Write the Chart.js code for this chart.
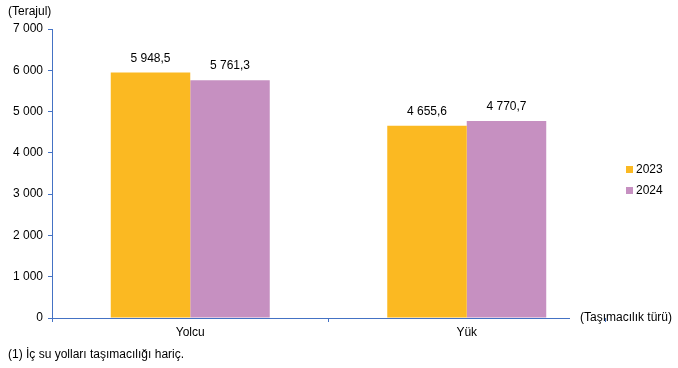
<!DOCTYPE html>
<html>
<head>
<meta charset="utf-8">
<script src="https://cdn.jsdelivr.net/npm/chart.js@4"></script>
<style>
  html, body { margin: 0; padding: 0; background: #fff; }
  #wrap { width: 678px; height: 368px; position: relative; }
</style>
</head>
<body>
<div id="wrap"><canvas id="grafik" width="678" height="368"></canvas></div>
<script>
const kategoriler = ['Yolcu', 'Yük'];
const yillar = ['2023', '2024'];
const deger2023 = [5948.5, 4655.6];
const deger2024 = [5761.3, 4770.7];
const yEksenMax = 7000;
const yEksenAdim = 1000;

const renkler = ['#FBB922', '#C690C1'];
const eksenRengi = '#4472C4';
const yazi = '"Liberation Sans", Arial, sans-serif';

function sayiBicim(v, ondalik) {
  const s = v.toFixed(ondalik).split('.');
  const tam = s[0].replace(/\B(?=(\d{3})+(?!\d))/g, ' ');
  return s[1] ? tam + ',' + s[1] : tam;
}

// etiketler, lejant ve eksen notları
const ekler = {
  id: 'ekler',
  afterDatasetsDraw(chart) {
    const ctx = chart.ctx;
    const alan = chart.chartArea;
    ctx.save();
    ctx.font = '12px ' + yazi;
    ctx.fillStyle = '#000';

    // bar değerleri
    ctx.textAlign = 'center';
    ctx.textBaseline = 'bottom';
    chart.data.datasets.forEach((ds, i) => {
      chart.getDatasetMeta(i).data.forEach((bar, j) => {
        ctx.fillText(sayiBicim(ds.data[j], 1), bar.x, bar.y - 8);
      });
    });

    // x ekseni çizgisi (sağ ucu kısa)
    const x0 = chart.scales.y.right;
    const yAlt = chart.scales.y.getPixelForValue(0);
    ctx.strokeStyle = eksenRengi;
    ctx.lineWidth = 1;
    ctx.beginPath();
    ctx.moveTo(x0 - 4, yAlt + 0.5);
    ctx.lineTo(alan.right - 35, yAlt + 0.5);
    ctx.stroke();

    // lejant
    ctx.textAlign = 'left';
    ctx.textBaseline = 'middle';
    chart.data.datasets.forEach((ds, i) => {
      const ly = 170 + i * 21;
      ctx.fillStyle = ds.backgroundColor;
      ctx.fillRect(626, ly - 4, 7, 7);
      ctx.fillStyle = '#000';
      ctx.fillText(ds.label, 636, ly);
    });

    // birim notları
    ctx.textBaseline = 'middle';
    ctx.fillText('(Terajul)', 8, 12);
    ctx.fillText('(Taşımacılık türü)', alan.right - 25, yAlt);
    ctx.fillText('(1) İç su yolları taşımacılığı hariç.', 8, 355);
    ctx.restore();
  }
};

new Chart(document.getElementById('grafik'), {
  type: 'bar',
  data: {
    labels: kategoriler,
    datasets: [
      { label: yillar[0], data: deger2023, backgroundColor: renkler[0] },
      { label: yillar[1], data: deger2024, backgroundColor: renkler[1] }
    ]
  },
  options: {
    responsive: false,
    animation: false,
    layout: { padding: { top: 29, right: 73, left: 0, bottom: 0 } },
    datasets: { bar: { barPercentage: 1.0, categoryPercentage: 0.575 } },
    plugins: {
      legend: { display: false },
      tooltip: { enabled: false }
    },
    scales: {
      x: {
        afterFit(s) { s.height = 50; },
        border: { display: false },
        grid: {
          drawOnChartArea: false, drawTicks: true, tickLength: 4, offset: true,
          color: c => (c.index >= kategoriler.length ? 'rgba(0,0,0,0)' : eksenRengi)
        },
        ticks: { color: '#000', font: { family: yazi, size: 12 }, padding: 3 }
      },
      y: {
        min: 0,
        max: yEksenMax,
        afterFit(s) { s.width = 52; },
        border: { display: true, color: eksenRengi },
        grid: { drawOnChartArea: false, drawTicks: true, tickLength: 4, color: eksenRengi },
        ticks: {
          stepSize: yEksenAdim,
          color: '#000',
          font: { family: yazi, size: 12 },
          padding: 5,
          callback: v => sayiBicim(v, 0)
        }
      }
    }
  },
  plugins: [ekler]
});
</script>
</body>
</html>
